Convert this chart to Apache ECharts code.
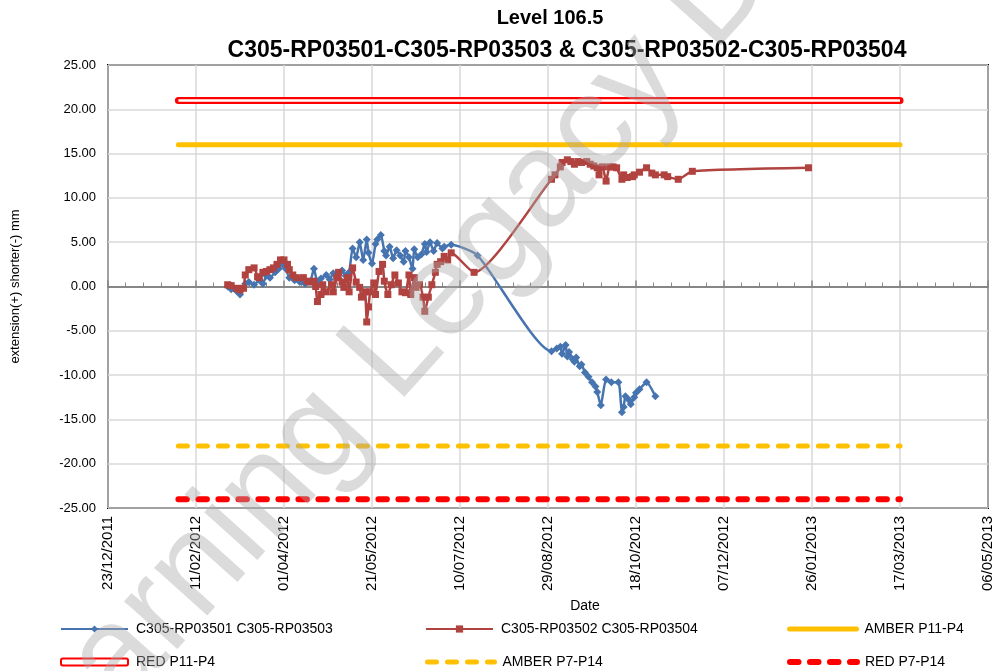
<!DOCTYPE html>
<html>
<head>
<meta charset="utf-8">
<title>Level 106.5</title>
<script src="https://cdn.jsdelivr.net/npm/echarts@6/dist/echarts.min.js"></script>
<style>
  html, body { margin: 0; padding: 0; background: #fff; }
  #chart { width: 997px; height: 671px; }
</style>
</head>
<body>
<div id="chart"></div>
<script>
  // axis range: 23/12/2011 .. 06/05/2013, a tick every 50 days
  const axisStart = '2011-12-23';
  const axisDays = 500;
  const tickDays = 50;
  const yMin = -25, yMax = 25, yStep = 5;

  // C305-RP03501 C305-RP03503
  const blueDates = [
    '2012-02-29','2012-03-02','2012-03-05','2012-03-07','2012-03-10','2012-03-12','2012-03-15','2012-03-18',
    '2012-03-20','2012-03-22','2012-03-24','2012-03-27','2012-03-29','2012-03-31','2012-04-02','2012-04-04',
    '2012-04-07','2012-04-10','2012-04-13','2012-04-16','2012-04-18','2012-04-20','2012-04-22','2012-04-25',
    '2012-04-27','2012-04-29','2012-05-01','2012-05-04','2012-05-06','2012-05-08','2012-05-10','2012-05-12',
    '2012-05-14','2012-05-16','2012-05-18','2012-05-19','2012-05-21','2012-05-23','2012-05-24','2012-05-26',
    '2012-05-28','2012-05-29','2012-05-31','2012-06-02','2012-06-04','2012-06-06','2012-06-08','2012-06-09',
    '2012-06-11','2012-06-13','2012-06-14','2012-06-16','2012-06-18','2012-06-20','2012-06-21','2012-06-23',
    '2012-06-25','2012-06-27','2012-06-30','2012-07-01','2012-07-05','2012-07-20','2012-08-31','2012-09-03',
    '2012-09-05','2012-09-06','2012-09-08','2012-09-09','2012-09-10','2012-09-12','2012-09-13','2012-09-14',
    '2012-09-16','2012-09-17','2012-09-19','2012-09-21','2012-09-23','2012-09-25','2012-09-26','2012-09-28',
    '2012-10-01','2012-10-04','2012-10-08','2012-10-10','2012-10-11','2012-10-12','2012-10-14','2012-10-15',
    '2012-10-17','2012-10-18','2012-10-20','2012-10-24','2012-10-29'
  ];
  const blueValues = [
    0.0, -0.3, -0.5, -0.9, 0.3, 0.5, 0.2, 0.7,
    0.3, 1.2, 1.0, 1.6, 2.0, 2.5, 2.0, 1.0,
    0.7, 0.5, 0.3, 0.6, 2.0, 0.5, 0.9, 1.3,
    0.8, 1.5, 1.0, 1.8, 1.2, 1.6, 4.3, 3.3,
    5.0, 3.0, 5.3, 3.8, 2.6, 4.8, 5.3, 5.8,
    4.0, 3.5, 4.5, 3.2, 4.1, 3.5, 2.8, 4.0,
    3.3, 2.0, 4.2, 3.3, 3.6, 4.8, 3.9, 5.0,
    4.0, 4.9, 4.3, 4.5, 4.7, 3.5, -7.3, -7.0,
    -6.8, -7.6, -6.6, -7.9, -7.4, -8.2, -8.5, -8.0,
    -9.0, -8.8, -9.7, -10.2, -10.8, -11.3, -11.9, -13.4,
    -10.5, -10.8, -10.8, -14.2, -13.6, -12.4, -12.8, -13.3,
    -12.5, -12.0, -11.6, -10.8, -12.4
  ];

  // C305-RP03502 C305-RP03504
  const redDates = [
    '2012-02-29','2012-03-02','2012-03-05','2012-03-07','2012-03-09','2012-03-10','2012-03-12','2012-03-15',
    '2012-03-17','2012-03-18','2012-03-20','2012-03-22','2012-03-24','2012-03-26','2012-03-28','2012-03-30',
    '2012-04-01','2012-04-03','2012-04-04','2012-04-06','2012-04-08','2012-04-12','2012-04-14','2012-04-16',
    '2012-04-18','2012-04-19','2012-04-20','2012-04-22','2012-04-23','2012-04-25','2012-04-28','2012-04-29',
    '2012-05-01','2012-05-02','2012-05-04','2012-05-05','2012-05-07','2012-05-08','2012-05-10','2012-05-12',
    '2012-05-14','2012-05-15','2012-05-17','2012-05-18','2012-05-19','2012-05-20','2012-05-22','2012-05-23',
    '2012-05-25','2012-05-27','2012-05-28','2012-05-30','2012-06-01','2012-06-03','2012-06-05','2012-06-07',
    '2012-06-09','2012-06-11','2012-06-12','2012-06-14','2012-06-15','2012-06-17','2012-06-19','2012-06-20',
    '2012-06-22','2012-06-24','2012-06-26','2012-06-27','2012-06-29','2012-07-01','2012-07-03','2012-07-05',
    '2012-07-18','2012-08-31','2012-09-02','2012-09-05','2012-09-06','2012-09-09','2012-09-11','2012-09-13',
    '2012-09-15','2012-09-17','2012-09-20','2012-09-22','2012-09-24','2012-09-26','2012-09-27','2012-09-29',
    '2012-10-01','2012-10-03','2012-10-05','2012-10-07','2012-10-10','2012-10-11','2012-10-13','2012-10-16',
    '2012-10-17','2012-10-20','2012-10-24','2012-10-27','2012-10-29','2012-11-03','2012-11-05','2012-11-11',
    '2012-11-19','2013-01-24'
  ];
  const redValues = [
    0.2, 0.1, -0.2, -0.4, -0.2, 1.3, 1.9, 2.1,
    1.1, 1.0, 1.6, 1.7, 1.9, 2.1, 2.5, 3.0,
    3.0, 2.5, 1.9, 1.3, 1.0, 1.0, 0.6, 0.5,
    0.6, 0.0, -1.7, -0.9, 0.2, -0.6, 0.2, -0.6,
    1.0, 1.6, 0.5, -0.1, 1.0, -0.6, 2.1, 0.5,
    -0.1, -1.2, -0.6, -4.0, -2.3, -0.6, 0.4, -0.9,
    1.7, 2.5, 0.6, -0.9, 0.2, 1.3, 0.4, -0.6,
    -0.7, 1.3, -0.9, 1.0, -0.1, 0.2, -1.2, -2.8,
    -1.2, 0.2, 1.6, 2.5, 2.8, 3.4, 3.0, 3.8,
    1.6, 12.1, 12.6, 13.5, 14.0, 14.3, 14.1, 13.8,
    14.1, 14.0, 14.1, 13.8, 13.6, 13.4, 12.6, 13.5,
    11.9, 13.5, 13.5, 13.4, 12.1, 12.6, 12.3, 12.4,
    12.6, 12.9, 13.4, 12.8, 12.6, 12.6, 12.4, 12.1,
    13.0, 13.4
  ];

  // alarm limits
  const limitDates = ['2012-02-01', '2013-03-17'];
  const amberP11P4 = [16, 16];
  const redP11P4 = [21, 21];
  const amberP7P14 = [-18, -18];
  const redP7P14 = [-24, -24];

  const dayMs = 86400000;
  const base = Date.parse(axisStart);
  const toDay = s => (Date.parse(s) - base) / dayMs;
  const pairs = (dates, vals) => dates.map((d, i) => [toDay(d), vals[i]]);
  const pad = n => (n < 10 ? '0' : '') + n;
  const fmtDay = v => {
    const d = new Date(base + v * dayMs);
    return pad(d.getUTCDate()) + '/' + pad(d.getUTCMonth() + 1) + '/' + d.getUTCFullYear();
  };

  const BLUE = '#4674B0';
  const RED = '#B0423F';
  const AMBER = '#FFC000';
  const BRIGHT_RED = '#FF0000';
  const FONT = '"Liberation Sans", Arial, sans-serif';

  function legendAt(name, left, top, extra) {
    return Object.assign({
      data: [name], left: left, top: top, padding: 0,
      itemWidth: 67, itemHeight: 9, selectedMode: false,
      textStyle: { fontFamily: FONT, fontSize: 14, color: '#000', padding: [0, 0, 0, 3] }
    }, extra || {});
  }

  const chart = echarts.init(document.getElementById('chart'));
  const option = {
    animation: false,
    backgroundColor: '#fff',
    title: [
      {
        text: 'Level 106.5', left: 550, top: 8, padding: 0, textAlign: 'center',
        textStyle: { fontFamily: FONT, fontWeight: 'bold', fontSize: 20, color: '#000' }
      },
      {
        text: 'C305-RP03501-C305-RP03503 & C305-RP03502-C305-RP03504', left: 567, top: 39, padding: 0, textAlign: 'center',
        textStyle: { fontFamily: FONT, fontWeight: 'bold', fontSize: 23, color: '#000' }
      }
    ],
    grid: {
      left: 108, right: 9, top: 65, bottom: 163,
      show: true, borderColor: '#000', borderWidth: 2,
      outerBoundsMode: 'none'
    },
    legend: [
      legendAt('C305-RP03501 C305-RP03503', 60, 622),
      legendAt('C305-RP03502 C305-RP03504', 425, 622),
      legendAt('AMBER P11-P4', 787, 622, { lineStyle: { width: 5 }, itemStyle: { opacity: 0 } }),
      legendAt('RED P11-P4', 60, 655, {
        icon: 'roundRect', itemHeight: 7,
        itemStyle: { color: '#fff', borderColor: BRIGHT_RED, borderWidth: 2 }
      }),
      legendAt('AMBER P7-P14', 425, 655, { lineStyle: { width: 5 }, itemStyle: { opacity: 0 } }),
      legendAt('RED P7-P14', 787, 655, { lineStyle: { width: 6 }, itemStyle: { opacity: 0 } })
    ],
    xAxis: [
      {
        type: 'value', min: 0, max: axisDays, interval: tickDays,
        name: 'Date', nameLocation: 'middle', nameGap: 80,
        nameTextStyle: { fontFamily: FONT, fontSize: 14, color: '#000', padding: [0, 0, 0, 74] },
        axisLine: { show: false, onZero: false },
        axisTick: { show: false },
        axisLabel: { rotate: 90, formatter: fmtDay, fontFamily: FONT, fontSize: 15, color: '#000', margin: 8 },
        splitLine: { show: true, lineStyle: { color: '#D9D9D9', width: 1.5 } }
      },
      {
        type: 'value', min: 0, max: axisDays, interval: tickDays, position: 'bottom',
        axisLine: { onZero: true, lineStyle: { color: '#868686', width: 2 } },
        axisTick: { show: true, inside: true, length: 6, lineStyle: { color: '#868686', width: 1.5 } },
        minorTick: { show: true, splitNumber: 5, length: 4, lineStyle: { color: '#868686', width: 1 } },
        axisLabel: { show: false },
        splitLine: { show: false }
      }
    ],
    yAxis: {
      type: 'value', min: yMin, max: yMax, interval: yStep,
      name: 'extension(+) shorter(-) mm', nameLocation: 'middle', nameGap: 86,
      nameTextStyle: { fontFamily: FONT, fontSize: 13, color: '#000' },
      axisLine: { show: false },
      axisTick: { show: false },
      axisLabel: { formatter: v => v.toFixed(2), fontFamily: FONT, fontSize: 13, color: '#000', margin: 12 },
      splitLine: { show: true, lineStyle: { color: '#D9D9D9', width: 1.5 } }
    },
    series: [
      {
        name: 'C305-RP03501 C305-RP03503', type: 'line', xAxisIndex: 0,
        data: pairs(blueDates, blueValues), smooth: 0.2,
        symbol: 'diamond', symbolSize: 8, color: BLUE,
        lineStyle: { color: BLUE, width: 2.5 }, itemStyle: { color: BLUE }, z: 4
      },
      {
        name: 'C305-RP03502 C305-RP03504', type: 'line', xAxisIndex: 0,
        data: pairs(redDates, redValues), smooth: 0.2,
        symbol: 'rect', symbolSize: 7, color: RED,
        lineStyle: { color: RED, width: 2.5 }, itemStyle: { color: RED }, z: 5
      },
      {
        name: 'AMBER P11-P4', type: 'line', data: pairs(limitDates, amberP11P4),
        symbol: 'none', color: AMBER, lineStyle: { color: AMBER, width: 5, cap: 'round' }, z: 3
      },
      {
        name: 'RED P11-P4', type: 'line', data: pairs(limitDates, redP11P4),
        symbol: 'none', color: BRIGHT_RED, lineStyle: { color: BRIGHT_RED, width: 7, cap: 'round' }, z: 3
      },
      {
        name: 'RED P11-P4 core', type: 'line', data: pairs(limitDates, redP11P4),
        symbol: 'none', color: '#fff', lineStyle: { color: '#fff', width: 2.5, cap: 'butt' }, z: 3
      },
      {
        name: 'AMBER P7-P14', type: 'line', data: pairs(limitDates, amberP7P14),
        symbol: 'none', color: AMBER, lineStyle: { color: AMBER, width: 5, cap: 'round', type: [9, 11] }, z: 3
      },
      {
        name: 'RED P7-P14', type: 'line', data: pairs(limitDates, redP7P14),
        symbol: 'none', color: BRIGHT_RED, lineStyle: { color: BRIGHT_RED, width: 6, cap: 'round', type: [8.5, 11.5] }, z: 3
      }
    ],
    graphic: [
      {
        type: 'text', silent: true, z: 100,
        x: 545, y: 185, rotation: 48 * Math.PI / 180,
        style: {
          text: 'Learning Legacy Document', fill: 'rgba(170,170,170,0.42)',
          fontFamily: FONT, fontSize: 135, align: 'center', verticalAlign: 'middle'
        }
      }
    ]
  };
  chart.setOption(option);
  window.addEventListener('resize', () => { chart.resize(); });
</script>
</body>
</html>
